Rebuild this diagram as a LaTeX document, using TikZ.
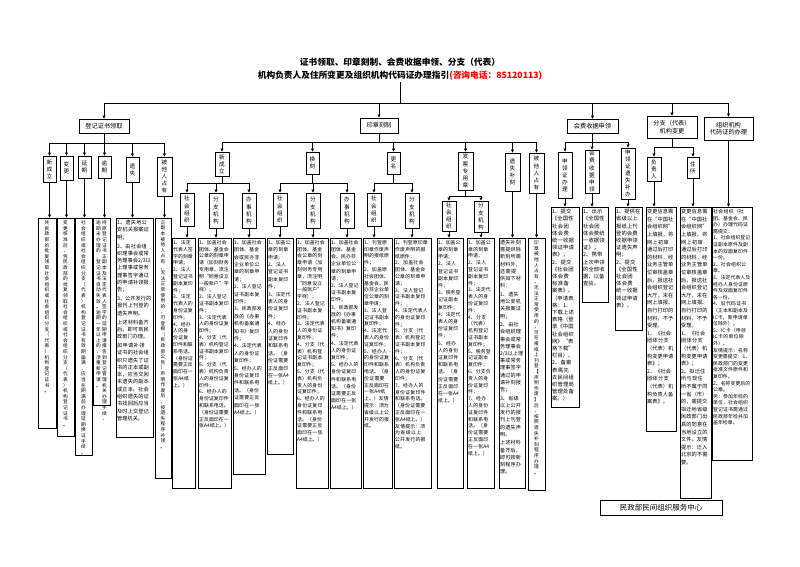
\documentclass[tikz,border=0pt]{standalone}
\usepackage{fontspec}
\setmainfont{Noto Sans CJK SC}
\XeTeXlinebreaklocale "zh"
\XeTeXlinebreakskip=0pt plus 0.5pt
\usetikzlibrary{arrows.meta}
\def\vsplitA#1{\ifx#1\relax\else#1\par\expandafter\vsplitA\fi}
\newcommand\vtx[1]{\vsplitA#1\relax}
\tikzset{
 frm/.style={draw, line width=0.9pt, inner sep=0pt},
 lab/.style={draw, line width=0.9pt, inner sep=0pt, font=\fontsize{5.6}{7.1}\selectfont, align=center, text width=6pt},
 topb/.style={draw, line width=0.9pt, inner sep=0.5pt, font=\fontsize{6.2}{7.6}\selectfont, align=center},
 txt/.style={inner sep=0pt, font=\fontsize{4.9}{6.8}\selectfont, align=left},
 vtxt/.style={inner sep=0pt, font=\fontsize{4.7}{5.6}\selectfont, align=center, text width=5pt},
 arr/.style={line width=0.7pt, -{Triangle[length=3pt,width=3pt]}},
 ln/.style={line width=0.7pt},
}
\newcommand\mkfr[5]{\pgfmathsetmacro\mw{#4-#2}\pgfmathsetmacro\mh{#5-#3}\pgfmathsetmacro\cx{(#2+#4)/2}\pgfmathsetmacro\cy{(#3+#5)/2}\node[frm,minimum width=\mw pt,minimum height=\mh pt] (#1) at (\cx,\cy) {};}
\newcommand\mklab[6]{\pgfmathsetmacro\mw{#4-#2}\pgfmathsetmacro\mh{#5-#3}\pgfmathsetmacro\cx{(#2+#4)/2}\pgfmathsetmacro\cy{(#3+#5)/2}\node[lab,minimum width=\mw pt,minimum height=\mh pt] (#1) at (\cx,\cy) {\vtx{#6}};}
\newcommand\mktop[6]{\pgfmathsetmacro\mw{#4-#2}\pgfmathsetmacro\mh{#5-#3}\pgfmathsetmacro\cx{(#2+#4)/2}\pgfmathsetmacro\cy{(#3+#5)/2}\node[topb,minimum width=\mw pt,minimum height=\mh pt] (#1) at (\cx,\cy) {#6};}
\newcommand\mktb[7][]{\mkfr{#2}{#3}{#4}{#5}{#6}\pgfmathsetmacro\tw{#5-#3-2.8}\node[txt,#1,text width=\tw pt,anchor=north west] (#2t) at ([xshift=1.4pt,yshift=-2.5pt]#2.north west) {#7};}
\newcommand\mkvb[6]{\mkfr{#1}{#2}{#3}{#4}{#5}\node[vtxt,anchor=north] (#1t) at ([yshift=-3pt]#1.north) {\vtx{#6}};}
\newcommand\mkvbb[7]{\mkfr{#1}{#2}{#3}{#4}{#5}\node[vtxt,anchor=north] (#1r) at ([xshift=3pt,yshift=-3pt]#1.north) {\vtx{#6}};\node[vtxt,anchor=north] (#1l) at ([xshift=-3pt,yshift=-3pt]#1.north) {\vtx{#7}};}
\begin{document}
\begin{tikzpicture}[x=1pt,y=-1pt]
\useasboundingbox (0,0) rectangle (800,566);
\fill[white] (0,0) rectangle (800,566);
% title
\node[font=\bfseries\fontsize{8.7}{10}\selectfont, inner sep=1pt] (ttl1) at (400,62) {证书领取、印章刻制、会费收据申领、分支（代表）};
\node[font=\bfseries\fontsize{8.7}{10}\selectfont, inner sep=1pt] (ttl2) at (400,76) {机构负责人及住所变更及组织机构代码证办理指引\textcolor{red}{(咨询电话：85120113)}};
\coordinate (hub) at (400,103);
% top boxes
\mktop{T1}{79}{119}{129}{133}{登记证书领取}
\mktop{T2}{360}{118}{398}{133}{印章刻制}
\mktop{T3}{567}{119}{618}{133}{会费收据申领}
\mktop{T4}{647}{116}{697}{138}{分支（代表）\\机构变更}
\mktop{T5}{704}{117}{753}{140}{组织机构\\代码证的办理}
\draw[ln] (ttl2.south) -- (hub);
\draw[ln] (T1.north |- hub) -- (T5.north |- hub);
\foreach \n in {T1,T2,T3,T4,T5} \draw[arr] (\n.north |- hub) -- (\n.north);

% ===== section 1
\mklab{A1}{43}{156}{56}{182}{新成立}
\mklab{A2}{60}{156}{73}{180}{变更}
\mklab{A3}{78}{156}{91}{178}{延期}
\mklab{A4}{98}{156}{111}{178}{逾期}
\mklab{A5}{126}{157}{139}{182}{遗失}
\mklab{A6}{157}{157}{172}{196}{被他人占有}
\mkvb{B1}{38}{218}{56}{428}{凭民政部的批复领取社会组织或社会组织分支（代表）机构登记证书。}
\mkvb{B2}{57}{218}{74}{436}{变更核准后，凭民政部的批复领取社会组织或社会组织分支（代表）机构登记证书。}
\mkvb{B3}{75}{218}{92}{455}{社会组织或社会组织分支（代表）机构登记证书有效期届满，应当在期满前办理延期换证手续。}
\mkvbb{B4}{93}{218}{110}{405}{持原登记证书正副本及法定代表人签字的延期申请报告到登记管理机关办理手续，}{逾期未办理的，登记证书自动失效。逾期一年以上的，须重新申请。}
\mktb[font=\fontsize{5.2}{7.3}\selectfont]{B5}{116}{218}{153}{437}{1、遗失地公安机关报案证明；\\[1.5pt]2、由社会组织理事会或常务理事会2/3以上理事或常务理事签字通过的申请补领报告；\\[1.5pt]3、公开发行的报刊上刊登的遗失声明。\\[1.5pt]上述材料备齐后，即可到民政部门办理。\\[1.5pt]如申请补领证书的社会组织只遗失了证书的正本或副本，应当交回未遗失的副本或正本。社会组织遗失的证书找回后应当及时上交登记管理机关。}
\mkvb{B6}{155}{218}{171}{478}{正副本被他人占有，无法正常使用的，可登报（民政部公告）声明作废后，按遗失程序补领。}
\coordinate (h1) at (0,143);
\draw[ln] (T1.south) -- (T1.south |- h1);
\draw[ln] (A1.north |- h1) -- (A6.north |- h1);
\foreach \i in {1,...,6} {
  \draw[arr] (A\i.north |- h1) -- (A\i.north);
  \draw[arr] (A\i.south) -- (A\i.south |- B\i.north);
}

% ===== section 2
\mklab{C1}{215}{152}{229}{176}{新成立}
\mklab{C2}{306}{152}{319}{174}{换刻}
\mklab{C3}{387}{152}{400}{174}{更名}
\mklab{C4}{458}{152}{473}{190}{发票专用章}
\mklab{C5}{505}{153}{520}{191}{遗失补刻}
\mklab{C6}{529}{153}{544}{193}{被他人占有}
\mklab{D1}{180}{193}{194}{226}{社会组织}
\mklab{D2}{209}{193}{223}{228}{分支机构}
\mklab{D3}{242}{193}{256}{228}{办事机构}
\mklab{D4}{273}{193}{287}{226}{社会组织}
\mklab{D5}{306}{193}{320}{228}{分支机构}
\mklab{D6}{340}{193}{354}{228}{办事机构}
\mklab{D7}{367}{193}{381}{226}{社会组织}
\mklab{D8}{405}{193}{419}{228}{分支机构}
\mklab{D9}{442}{201}{456}{231}{社会组织}
\mklab{D10}{474}{201}{488}{232}{分支机构}
\mktb{E1}{172}{238}{195}{488}{1、法定代表人签字的刻章申请；\\2、法人登记证书副本复印件；\\3、法定代表人的身份证复印件；\\4、经办人的身份证复印件和联系电话。（身份证需要正反面印在一张A4纸上。）}
\mktb{E2}{198}{238}{231}{488}{1、加盖社会团体、基金会公章的刻章申请（加刻财务专用章，须注明“同意设立一般账户”字样）；\\2、法人登记证书副本复印件；\\3、法定代表人的身份证复印件；\\4、分支（代表）机构登记证书副本复印件；\\5、分支（代表）机构负责人的身份证复印件；\\6、经办人的身份证复印件和联系电话。（身份证需要正反面印在一张A4纸上。）}
\mktb[font=\fontsize{4.9}{7.4}\selectfont]{E3}{233}{238}{265}{474}{1、加盖社会团体、基金会或民办非企业单位公章的刻章申请；\\2、法人登记证书副本复印件；\\3、民政部发放的《办事机构备案通知书》复印件；\\4、法定代表人的身份证复印件；\\5、经办人的身份证复印件和联系电话。（身份证需要正反面印在一张A4纸上。）}
\mktb[font=\fontsize{4.9}{7.4}\selectfont]{E4}{267}{238}{293}{454}{1、加盖公章的刻章申请；\\2、法人登记证书副本复印件；\\3、法定代表人的身份证复印件；\\4、经办人的身份证复印件和联系电话。（身份证需要正反面印在一张A4纸上。）}
\mktb{E5}{296}{238}{328}{488}{1、加盖社会团体、基金会公章的刻章申请（加刻财务专用章，须注明“同意设立一般账户”字样）；\\2、法人登记证书副本复印件；\\3、法定代表人的身份证复印件；\\4、分支（代表）机构登记证书副本复印件；\\5、分支（代表）机构负责人的身份证复印件；\\6、经办人的身份证复印件和联系电话。（身份证需要正反面印在一张A4纸上。）}
\mktb[font=\fontsize{4.9}{7.2}\selectfont]{E6}{330}{238}{361}{488}{1、加盖社会团体、基金会、民办非企业单位公章的刻章申请；\\2、法人登记证书副本复印件；\\3、民政部发放的《办事机构备案通知书》复印件；\\4、法定代表人的身份证复印件；\\5、经办人的身份证复印件和联系电话。（身份证需要正反面印在一张A4纸上。）}
\mktb{E7}{363}{238}{392}{488}{1、刊登原印章作废声明的报纸原件；\\2、加盖原社会团体、基金会、民办非企业单位公章的刻章申请；\\3、法人登记证书副本复印件；\\4、法定代表人的身份证复印件；\\5、经办人的身份证复印件和联系电话。（身份证需要正反面印在一张A4纸上。）友情提示：须为省级以上公开发行的报纸。}
\mktb{E8}{394}{238}{431}{488}{1、刊登原印章作废声明的报纸原件；\\2、加盖社会团体、基金会公章的刻章申请；\\3、法人登记证书副本复印件；\\4、法定代表人的身份证复印件；\\5、分支（代表）机构登记证书副本复印件；\\6、分支（代表）机构负责人的身份证复印件；\\7、经办人的身份证复印件和联系电话。（身份证需要正反面印在一张A4纸上。）\\友情提示：须为省级以上公开发行的报纸。}
\mktb[font=\fontsize{4.9}{7.2}\selectfont]{E9}{437}{238}{463}{488}{1、加盖公章的刻章申请；\\2、法人登记证书副本复印件；\\3、税务登记证副本复印件；\\4、法定代表人的身份证复印件；\\5、经办人的身份证复印件和联系电话。（身份证需要正反面印在一张A4纸上。）}
\mktb{E10}{467}{238}{494}{488}{1、加盖公章的刻章申请；\\2、法人登记证书副本复印件；\\3、法定代表人的身份证复印件；\\4、分支（代表）机构登记证书副本复印件；\\5、税务登记证副本复印件；\\6、分支负责人的身份证复印件；\\7、经办人的身份证复印件和联系电话。（身份证需要正反面印在一张A4纸上。）}
\mktb[font=\fontsize{5.1}{7.2}\selectfont]{E11}{499}{238}{525}{488}{遗失补刻需提供除新刻所需材料外，还需提供如下材料：\\[1.5pt]1、遗失地公安机关报案证明；\\[1.5pt]2、由社会组织理事会或常务理事会2/3以上理事或常务理事签字通过的申请补刻报告；\\[1.5pt]3、省级以上公开发行的报刊上刊登的遗失声明。\\[1.5pt]上述材料备齐后，即可按新刻程序办理。}
\mkvb{E12}{528}{238}{545}{490}{印章被他人占有，无法正常使用的，可在报纸上刊登【声明作废】后，按照遗失补刻程序办理。}
\coordinate (h2) at (0,142);
\draw[ln] (T2.south) -- (T2.south |- h2);
\draw[ln] (C1.north |- h2) -- (C6.north |- h2);
\foreach \i in {1,...,6} \draw[arr] (C\i.north |- h2) -- (C\i.north);
\coordinate (h21) at (0,183);
\coordinate (h24) at (0,196);
\draw[ln] (C1.south) -- (C1.south |- h21);
\draw[ln] (D1.north |- h21) -- (D3.north |- h21);
\draw[ln] (C2.south) -- (C2.south |- h21);
\draw[ln] (D4.north |- h21) -- (D6.north |- h21);
\draw[ln] (C3.south) -- (C3.south |- h21);
\draw[ln] (D7.north |- h21) -- (D8.north |- h21);
\draw[ln] (C4.south) -- (C4.south |- h24);
\draw[ln] (D9.north |- h24) -- (D10.north |- h24);
\foreach \i in {1,...,8} \draw[arr] (D\i.north |- h21) -- (D\i.north);
\foreach \i in {9,10} \draw[arr] (D\i.north |- h24) -- (D\i.north);
\foreach \i in {1,...,10} \draw[arr] (D\i.south) -- (D\i.south |- E\i.north);
\draw[arr] (C5.south) -- (C5.south |- E11.north);
\draw[arr] (C6.south) -- (C6.south |- E12.north);

% ===== section 3
\mklab{F1}{558}{152}{572}{198}{申领证办理}
\mklab{F2}{585}{150}{599}{193}{会费收据申领}
\mklab{F3}{621}{148}{635}{199}{申领证遗失补办}
\mktb[font=\fontsize{5.3}{7.2}\selectfont]{G1}{551}{207}{579}{407}{1、提交《全国性社会团体会费统一收据领证申请表》；\\2、提交《社会团体会费标准备案表》。（申请表格：1、下载上述表格（登录《中国社会组织网》“表格下载”栏目）。2、备案表需先去民间组织管理局管理处备案。）}
\mktb[font=\fontsize{5.3}{7.2}\selectfont]{G2}{582}{207}{608}{302}{1、出示《全国性社会团体会费统一收据领证》；\\2、携带上次申领的全部收据，以备查验。}
\mktb[font=\fontsize{5.3}{7.2}\selectfont]{G3}{615}{207}{642}{330}{1、提供在省级以上报纸上刊登的会费收据申领证遗失声明；\\2、提交《全国性社会团体会费统一收据领证申请表》。}
\coordinate (h3) at (0,142);
\draw[ln] (T3.south) -- (T3.south |- h3);
\draw[ln] (F1.north |- h3) -- (F3.north |- h3);
\foreach \i in {1,2,3} {
  \draw[arr] (F\i.north |- h3) -- (F\i.north);
  \draw[arr] (F\i.south) -- (F\i.south |- G\i.north);
}

% ===== section 4
\mklab{H1}{647}{157}{661}{181}{负责人}
\mklab{H2}{687}{157}{699}{178}{住所}
\mktb[font=\fontsize{5.2}{7.6}\selectfont]{I1}{646}{207}{676}{431}{变更信息需在“中国社会组织网”上填报，将网上初审通过后打印的材料，经业务主管单位审核盖章后，报送社会组织登记大厅，未在网上填报、自行打印的材料，不予受理。\\1、《社会团体分支（代表）机构变更申请表》；\\2、《社会团体分支（代表）机构负责人备案表》。}
\mktb[font=\fontsize{5.2}{7.6}\selectfont]{I2}{680}{207}{711}{498}{变更信息需在“中国社会组织网”上填报，将网上初审通过后打印的材料，经业务主管单位审核盖章后，报送社会组织登记大厅，未在网上填报、自行打印的材料，不予受理。\\1、《社会团体分支（代表）机构变更申请表》；\\2、拟迁住所与现住所不属于同一省（市）的，需提交拟迁地省级民政部门出具的同意在当地设立的文件。友情提示：迁入北京的不需要。}
\coordinate (h4) at (0,147);
\draw[ln] (T4.south) -- (T4.south |- h4);
\draw[ln] (H1.north |- h4) -- (H2.north |- h4);
\foreach \i in {1,2} {
  \draw[arr] (H\i.north |- h4) -- (H\i.north);
  \draw[arr] (H\i.south) -- (H\i.south |- I\i.north);
}

% ===== section 5
\mktb[font=\fontsize{4.9}{6.6}\selectfont]{J1}{712}{207}{752}{460}{社会组织（社团、基金会、民办）办理代码证需提交：\\1、社会组织登记证副本原件及副本的双面复印件一份。\\2、社会组织公章。\\3、法定代表人及经办人身份证原件及双面复印件各一份。\\4、旧代码证书（正本和副本及IC卡，新申请单位除外）。\\5、IC卡（申领IC卡的单位除外）。\\友情提示：名称变更需提交：1、民政部门的变更批准文件原件和复印件。\\2、名称变更后的公章。\\另：参加年检的单位，社会组织登记证书需通过民政部年检并加盖年检章。}
\draw[arr] (T5.south) -- (T5.south |- J1.north);

% footer
\node[topb, minimum width=122pt, minimum height=15pt, font=\fontsize{7.5}{9}\selectfont] (K) at (661,507.5) {民政部民间组织服务中心};
\end{tikzpicture}
\end{document}
